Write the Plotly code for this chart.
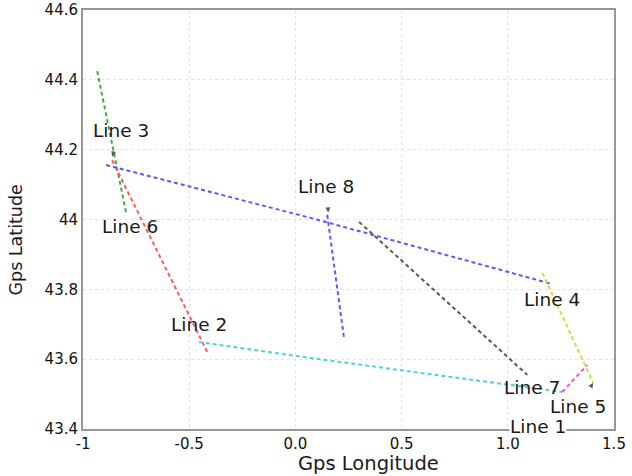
import plotly.graph_objects as go

# Track segments (longitude, latitude)
line_names = ["green", "red", "blue", "blue8", "gray", "yellow", "cyan", "magenta"]
line_lon = {
    "green": [-0.933, -0.797],
    "red": [-0.863, -0.413],
    "blue": [-0.891, 0.10, 1.210],
    "blue8": [0.150, 0.230],
    "gray": [0.300, 1.092],
    "yellow": [1.163, 1.402],
    "cyan": [-0.455, 0.10, 1.256],
    "magenta": [1.256, 1.374],
}
line_lat = {
    "green": [44.425, 44.019],
    "red": [44.170, 43.618],
    "blue": [44.156, 44.000, 43.815],
    "blue8": [44.013, 43.655],
    "gray": [43.993, 43.555],
    "yellow": [43.847, 43.532],
    "cyan": [43.649, 43.601, 43.506],
    "magenta": [43.506, 43.583],
}
line_colors = {
    "green": "rgb(70,170,70)",
    "red": "rgb(255,90,90)",
    "blue": "rgb(90,90,250)",
    "blue8": "rgb(90,90,250)",
    "gray": "rgb(90,90,90)",
    "yellow": "rgb(215,215,70)",
    "cyan": "rgb(80,210,210)",
    "magenta": "rgb(235,80,235)",
}

# Labels: text, label position, arrow tip
label_text = ["Line 3", "Line 6", "Line 2", "Line 8", "Line 4", "Line 7", "Line 5", "Line 1"]
label_lon = [-0.82, -0.78, -0.455, 0.145, 1.21, 1.112, 1.33, 1.14]
label_lat = [44.255, 43.98, 43.70, 44.095, 43.77, 43.518, 43.465, 43.408]
tip_lon = [-0.863, -0.797, -0.452, 0.155, 1.21, 1.09, 1.402, 1.22]
tip_lat = [44.180, 44.013, 43.660, 44.020, 43.815, 43.555, 43.532, 43.46]

x_tickvals = [-1, -0.5, 0, 0.5, 1, 1.5]
x_ticktext = ["-1", "-0.5", "0.0", "0.5", "1.0", "1.5"]
y_tickvals = [43.4, 43.6, 43.8, 44.0, 44.2, 44.4, 44.6]
y_ticktext = ["43.4", "43.6", "43.8", "44", "44.2", "44.4", "44.6"]

fig = go.Figure()
for name in line_names:
    fig.add_trace(go.Scatter(
        x=line_lon[name], y=line_lat[name], mode="lines",
        line=dict(color=line_colors[name], width=2, dash="4px,3px"),
        showlegend=False, hoverinfo="skip",
    ))

for i, t in enumerate(label_text):
    white_bg = t in ("Line 5", "Line 1")
    fig.add_annotation(
        x=tip_lon[i], y=tip_lat[i], ax=label_lon[i], ay=label_lat[i],
        axref="x", ayref="y", text=t, showarrow=True,
        arrowhead=2, arrowsize=1, arrowwidth=1, arrowcolor="rgb(90,90,90)",
        font=dict(family="DejaVu Sans", size=18.5, color="#1a1a1a"),
        bgcolor="white" if white_bg else "rgba(0,0,0,0)",
        borderpad=0, standoff=0, startstandoff=10,
    )

# Axis titles placed as paper-anchored text
fig.add_annotation(
    text="Gps Longitude", xref="paper", yref="paper", x=0.537, y=-0.112,
    xanchor="center", yanchor="bottom", showarrow=False, borderpad=0,
    font=dict(family="DejaVu Sans", size=19.5, color="#1a1a1a"),
)
fig.add_annotation(
    text="Gps Latitude", xref="paper", yref="paper", x=-0.126, y=0.45,
    xanchor="center", yanchor="middle", showarrow=False, textangle=-90,
    font=dict(family="DejaVu Sans", size=17.5, color="#1a1a1a"),
)

axis_common = dict(
    showgrid=True, gridcolor="rgb(225,225,225)", griddash="dot", gridwidth=1,
    zeroline=False, showline=True, linecolor="rgb(150,150,150)", linewidth=2,
    mirror=True, ticks="", automargin=False,
    tickfont=dict(family="DejaVu Sans", size=15, color="#111"),
)
fig.update_xaxes(range=[-1.0, 1.5], tickvals=x_tickvals, ticktext=x_ticktext, **axis_common)
fig.update_yaxes(range=[43.4, 44.6], tickvals=y_tickvals, ticktext=y_ticktext, **axis_common)

fig.update_layout(
    width=632, height=476,
    margin=dict(l=83, r=18, t=10, b=47),
    plot_bgcolor="white", paper_bgcolor="white",
)
fig.write_html("out.html")
